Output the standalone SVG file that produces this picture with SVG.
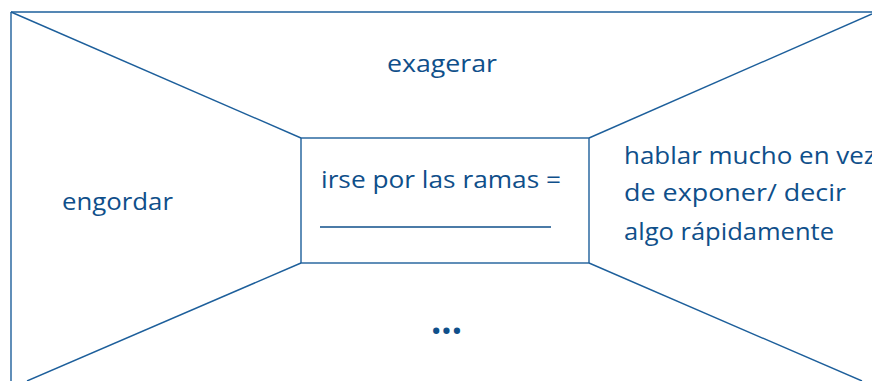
<svg xmlns="http://www.w3.org/2000/svg" width="872" height="381" viewBox="0 0 872 381">
<style>
.ln{stroke:#1d5f9b;stroke-width:1.4;fill:none}
.t{font-family:"Open Sans","DejaVu Sans",sans-serif;font-size:24px;font-weight:500;fill:#0f4f8a}
</style>
<rect width="872" height="381" fill="#fff"/>
<g id="connectors">
<line class="ln" x1="11" y1="12" x2="872" y2="12"/>
<line class="ln" x1="11" y1="12" x2="11" y2="381"/>
<line class="ln" x1="11" y1="12" x2="301" y2="138"/>
<line class="ln" x1="589" y1="138" x2="872" y2="14"/>
<line class="ln" x1="301" y1="263" x2="27" y2="381"/>
<line class="ln" x1="589" y1="263" x2="862" y2="381"/>
</g>
<g id="center">
<rect class="ln" x="301" y="138" width="288" height="125"/>
<text class="t" x="321" y="188" textLength="240" lengthAdjust="spacingAndGlyphs">irse por las ramas =</text>
<line x1="320" y1="227" x2="551" y2="227" stroke="#0f4f8a" stroke-width="1.4"/>
</g>
<g id="top"><text class="t" x="387" y="72" textLength="110" lengthAdjust="spacingAndGlyphs">exagerar</text></g>
<g id="left"><text class="t" x="62" y="210" textLength="111" lengthAdjust="spacingAndGlyphs">engordar</text></g>
<g id="right">
<text class="t" x="624" y="164" textLength="252" lengthAdjust="spacingAndGlyphs">hablar mucho en vez</text>
<text class="t" x="624" y="201" textLength="222" lengthAdjust="spacingAndGlyphs">de exponer/ decir</text>
<text class="t" x="624" y="240" textLength="210" lengthAdjust="spacingAndGlyphs">algo rápidamente</text>
</g>
<g id="bottom"><text x="431" y="334" textLength="31" lengthAdjust="spacingAndGlyphs" style="font-family:'Open Sans',sans-serif;font-size:40px;font-weight:bold;fill:#0f4f8a">...</text></g>
</svg>
